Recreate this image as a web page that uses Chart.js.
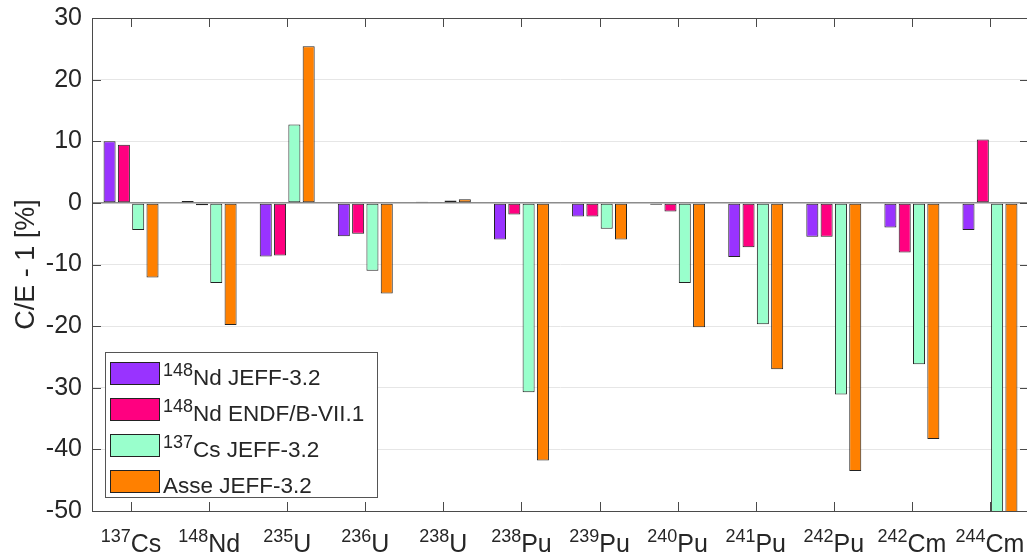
<!DOCTYPE html>
<html>
<head>
<meta charset="utf-8">
<script src="https://cdn.jsdelivr.net/npm/chart.js@4.4.1/dist/chart.umd.min.js"></script>
<style>
  html, body { margin: 0; padding: 0; background: #fff; overflow: hidden; }
  #chart { display: block; }
</style>
</head>
<body>
<canvas id="chart" width="1040" height="556"></canvas>
<script>
// isotopes on the x axis (mass number + element)
const massNumbers = ['137', '148', '235', '236', '238', '238', '239', '240', '241', '242', '242', '244'];
const elements    = ['Cs',  'Nd',  'U',   'U',   'U',   'Pu',  'Pu',  'Pu',  'Pu',  'Pu',  'Cm',  'Cm'];

// C/E - 1 [%] per series
const nd148Jeff = [10.0,  0.3,  -8.7,  -5.4, 0.2,  -5.95, -2.2, -0.3, -8.8,  -5.5,  -4.0,  -4.4];
const nd148Endf = [9.45, -0.4,  -8.55, -5.0, 0.15, -1.9,  -2.2, -1.4, -7.2,  -5.5,  -8.05, 10.3];
const cs137Jeff = [-4.4, -13.0, 12.7, -11.0, 0.4, -30.75, -4.2, -13.0, -19.7, -31.1, -26.2, -60];
const asseJeff  = [-12.1, -19.8, 25.4, -14.7, 0.6, -41.8, -5.95, -20.2, -27.0, -43.5, -38.3, -60];

// legend text: superscript part + rest
const seriesSup  = ['148', '148', '137', ''];
const seriesName = ['Nd JEFF-3.2', 'Nd ENDF/B-VII.1', 'Cs JEFF-3.2', 'Asse JEFF-3.2'];
const seriesFill = ['#9933ff', '#ff0080', '#99ffcc', '#ff8000'];

const yTicks = { min: -50, max: 30, step: 10 };

const FONT = '"Liberation Sans", Arial, Helvetica, sans-serif';
const AX = '#262626';

const frame = {
  id: 'frame',
  afterDraw(chart) {
    const ctx = chart.ctx;
    const a = chart.chartArea;
    const xs = chart.scales.x, ys = chart.scales.y;
    ctx.save();
    // box
    ctx.strokeStyle = '#4a4a4a';
    ctx.lineWidth = 1;
    ctx.strokeRect(Math.round(a.left) + 0.5, Math.round(a.top) + 0.5,
                   Math.round(a.right - a.left), Math.round(a.bottom - a.top));
    // inward ticks
    ctx.beginPath();
    xs.ticks.forEach((t, i) => {
      const x = Math.round(xs.getPixelForTick(i)) + 0.5;
      ctx.moveTo(x, a.bottom); ctx.lineTo(x, a.bottom - 9);
      ctx.moveTo(x, a.top);    ctx.lineTo(x, a.top + 9);
    });
    ys.ticks.forEach(t => {
      const y = Math.round(ys.getPixelForValue(t.value)) + 0.5;
      ctx.moveTo(a.left, y);  ctx.lineTo(a.left + 9, y);
      ctx.moveTo(a.right, y); ctx.lineTo(a.right - 9, y);
    });
    ctx.stroke();

    // x labels with superscript mass numbers
    ctx.fillStyle = AX;
    ctx.textBaseline = 'alphabetic';
    ctx.textAlign = 'left';
    const supFont = '18px ' + FONT, mainFont = '25px ' + FONT;
    xs.ticks.forEach((t, i) => {
      ctx.font = supFont;
      const ws = ctx.measureText(massNumbers[i]).width;
      ctx.font = mainFont;
      const wm = ctx.measureText(elements[i]).width;
      const x0 = xs.getPixelForTick(i) - (ws + wm) / 2;
      ctx.font = supFont;
      ctx.fillText(massNumbers[i], x0, 542);
      ctx.font = mainFont;
      ctx.fillText(elements[i], x0 + ws, 552);
    });

    // legend
    const lx = 105, ly = 352, lw = 272, lh = 145;
    ctx.fillStyle = '#fff';
    ctx.fillRect(lx, ly, lw, lh);
    ctx.strokeStyle = '#555';
    ctx.strokeRect(lx + 0.5, ly + 0.5, lw, lh);
    seriesName.forEach((name, i) => {
      const top = 362 + i * 36;
      ctx.fillStyle = seriesFill[i];
      ctx.fillRect(110, top, 49, 22);
      ctx.strokeStyle = '#222';
      ctx.strokeRect(110.5, top + 0.5, 49, 22);
      ctx.fillStyle = AX;
      let x = 163;
      if (seriesSup[i]) {
        ctx.font = '18px ' + FONT;
        ctx.fillText(seriesSup[i], x, top + 14);
        x += ctx.measureText(seriesSup[i]).width;
      }
      ctx.font = '22.5px ' + FONT;
      ctx.fillText(name, x, top + 23);
    });
    ctx.restore();
  }
};

const mk = (i, data) => ({
  label: seriesSup[i] + seriesName[i],
  data,
  backgroundColor: seriesFill[i],
  borderColor: '#222',
  borderWidth: 1,
  borderSkipped: false,
  categoryPercentage: 0.733,
  barPercentage: 0.84
});

new Chart(document.getElementById('chart'), {
  type: 'bar',
  data: {
    labels: massNumbers.map((m, i) => m + elements[i]),
    datasets: [mk(0, nd148Jeff), mk(1, nd148Endf), mk(2, cs137Jeff), mk(3, asseJeff)]
  },
  options: {
    responsive: false,
    animation: false,
    devicePixelRatio: 1,
    layout: { padding: { top: 18, right: 11, left: 0, bottom: 0 } },
    plugins: { legend: { display: false }, tooltip: { enabled: false } },
    scales: {
      x: {
        grid: { display: false, drawTicks: false },
        border: { display: false },
        ticks: { display: false },
        afterFit: s => { s.height = 45; s.paddingLeft = 0; s.paddingRight = 0; }
      },
      y: {
        min: yTicks.min, max: yTicks.max,
        grid: {
          drawTicks: false,
          color: c => c.tick && c.tick.value === 0 ? '#8c8c8c' : '#e6e6e6',
          lineWidth: c => c.tick && c.tick.value === 0 ? 1.5 : 1
        },
        border: { display: false },
        ticks: { stepSize: yTicks.step, padding: 10, color: AX, font: { family: FONT, size: 25 } },
        title: {
          display: true, text: 'C/E - 1 [%]', color: AX,
          font: { family: FONT, size: 27 }, padding: { top: 10, bottom: 0 }
        },
        afterFit: s => { s.width = 92; s.paddingTop = 0; s.paddingBottom = 0; }
      }
    }
  },
  plugins: [frame]
});
</script>
</body>
</html>
